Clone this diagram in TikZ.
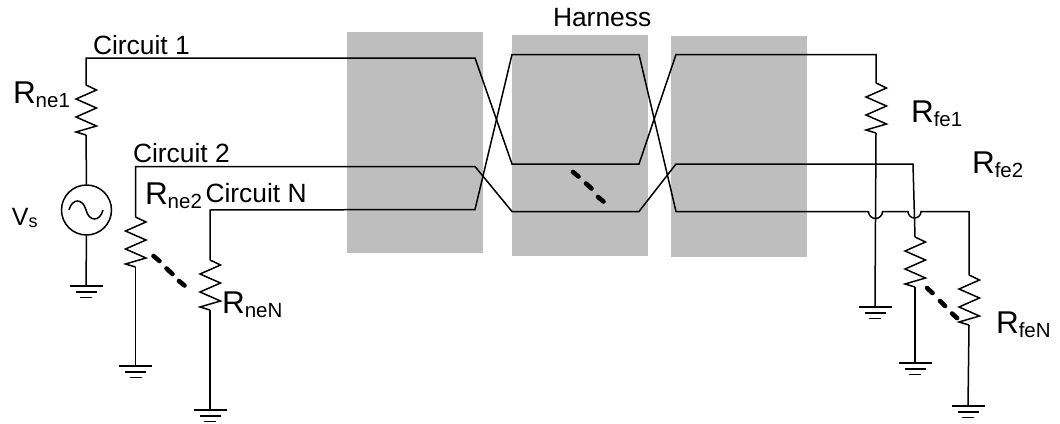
\documentclass[tikz,border=0pt]{standalone}
\usepackage{fontspec}
\setmainfont{Liberation Sans}
\newcommand{\Rlab}[1]{{\fontsize{31.5}{31.5}\selectfont R}\raisebox{-4.5pt}{\fontsize{20.5}{20.5}\selectfont #1}}
\tikzset{
  x=1pt,y=-1pt,
  wire/.style={line width=1.5pt,black,line join=miter},
  harnessbox/.style={draw=none,fill=harnessgray},
  txt/.style={anchor=base west,inner sep=0pt,outer sep=0pt},
  label26/.style={txt,font=\fontsize{26.4}{26.4}\selectfont},
  dots/.style={line width=4.6pt,line cap=round,black},
  source/.style={draw,circle,line width=1.5pt,minimum size=50pt,inner sep=0pt},
  pics/resistor/.style={code={
    \coordinate (-top) at (0,0);
    \coordinate (-bot) at (0,50);
    \draw[wire,line join=miter] (0,0) -- (10.5,5) -- (-10,14) -- (10.5,23) -- (-10,32) -- (10.5,41) -- (-10,47) -- (0,50);
  }},
  pics/earth/.style={code={
    \coordinate (-top) at (0,0);
    \draw[wire] (-16.5,0) -- (16.5,0) (-10.5,6) -- (10.5,6) (-6,11.5) -- (6,11.5);
  }}
}
\definecolor{harnessgray}{HTML}{BEBEBE}
\begin{document}
\begin{tikzpicture}
\useasboundingbox (0,0) rectangle (1060,423);
% harness blocks
\node[harnessbox,anchor=north west,minimum width=136pt,minimum height=221pt,inner sep=0pt] (h1) at (347,32) {};
\node[harnessbox,anchor=north west,minimum width=136pt,minimum height=221pt,inner sep=0pt] (h2) at (512,35) {};
\node[harnessbox,anchor=north west,minimum width=136pt,minimum height=221pt,inner sep=0pt] (h3) at (671,36) {};
% resistors and grounds
\pic (rn1) at (86,85) {resistor};
\pic (rn2) at (135.5,217) {resistor};
\pic (rnN) at (210,260) {resistor};
\pic (rf1) at (876,83) {resistor};
\pic (rf2) at (915,237) {resistor};
\pic (rfN) at (969,275) {resistor};
\pic (g1) at (86,286) {earth};
\pic (g2) at (135.5,366) {earth};
\pic (g3) at (210,410) {earth};
\pic (g4) at (875,307) {earth};
\pic (g5) at (915,363) {earth};
\pic (g6) at (968,406) {earth};
\node[source] (src) at (86.5,210) {};
\draw[wire] (69,210) .. controls (72,198) and (83,198) .. (86,210) .. controls (89,222) and (100,222) .. (103,210);
% routing points
\coordinate (c1a) at (86,58);
\coordinate (c1b) at (475,58);
\coordinate (c1c) at (512,164);
\coordinate (c1d) at (639,164);
\coordinate (c1e) at (676,54.5);
\coordinate (c1f) at (876,54.5);
\coordinate (c2a) at (135.5,166.5);
\coordinate (c2b) at (475,166.5);
\coordinate (c2c) at (512,211.5);
\coordinate (c2d) at (639,211.5);
\coordinate (c2e) at (676,164);
\coordinate (c2f) at (913,164);
\coordinate (cNa) at (210,210);
\coordinate (cNb) at (475,209.5);
\coordinate (cNc) at (512,54.5);
\coordinate (cNd) at (639,54.5);
\coordinate (cNe) at (676,211.5);
\coordinate (hopA) at (868.5,211.5);
\coordinate (hopB) at (908,211.5);
\coordinate (cNf) at (969,211.5);
% circuit 1
\draw[wire] (src.north) -- (rn1-bot);
\draw[wire] (rn1-top) -- (c1a) -- (c1b) -- (c1c) -- (c1d) -- (c1e) -- (c1f) -- (rf1-top);
\draw[wire] (rf1-bot) -- (g4-top);
\draw[wire] (src.south) -- (g1-top);
% circuit 2
\draw[wire] (rn2-top) -- (c2a) -- (c2b) -- (c2c) -- (c2d) -- (c2e) -- (c2f) -- (rf2-top);
\draw[wire] (rn2-bot) -- (g2-top);
\draw[wire] (rf2-bot) -- (g5-top);
% circuit N
\draw[wire] (rnN-top) -- (cNa) -- (cNb) -- (cNc) -- (cNd) -- (cNe) -- (hopA)
  arc[start angle=180,end angle=0,radius=7] -- (hopB)
  arc[start angle=180,end angle=0,radius=6.5] -- (cNf) -- (rfN-top);
\draw[wire] (rnN-bot) -- (g3-top);
\draw[wire] (rfN-bot) -- (g6-top);
% ellipsis marks
\draw[dots] (153.5,256) -- (159.5,261) (166.5,268.5) -- (172.5,274) (179,281) -- (184.5,285.5);
\draw[dots] (573,172) -- (578.5,176.5) (586,183.5) -- (591.5,188.5) (598,197) -- (603.5,201.5);
\draw[dots] (927,288) -- (932.5,293) (940,301) -- (945,306) (952,313.5) -- (957,318);
% labels
\node[label26] (lh) at (553,27) {Harness};
\node[label26] (lc1) at (93,54) {Circuit 1};
\node[label26] (lc2) at (133,162) {Circuit 2};
\node[label26] (lcN) at (205.5,202) {Circuit N};
\node[txt] (lrn1) at (13,103) {\Rlab{ne1}};
\node[txt] (lrn2) at (145,204) {\Rlab{ne2}};
\node[txt] (lrnN) at (222,313) {\Rlab{neN}};
\node[txt] (lrf1) at (911,122) {\Rlab{fe1}};
\node[txt] (lrf2) at (972,173) {\Rlab{fe2}};
\node[txt] (lrfN) at (996,333) {\Rlab{feN}};
\node[txt] (lvs) at (12,225) {{\fontsize{25}{25}\selectfont V}\raisebox{-2pt}{\fontsize{18}{18}\selectfont s}};
\end{tikzpicture}
\end{document}
